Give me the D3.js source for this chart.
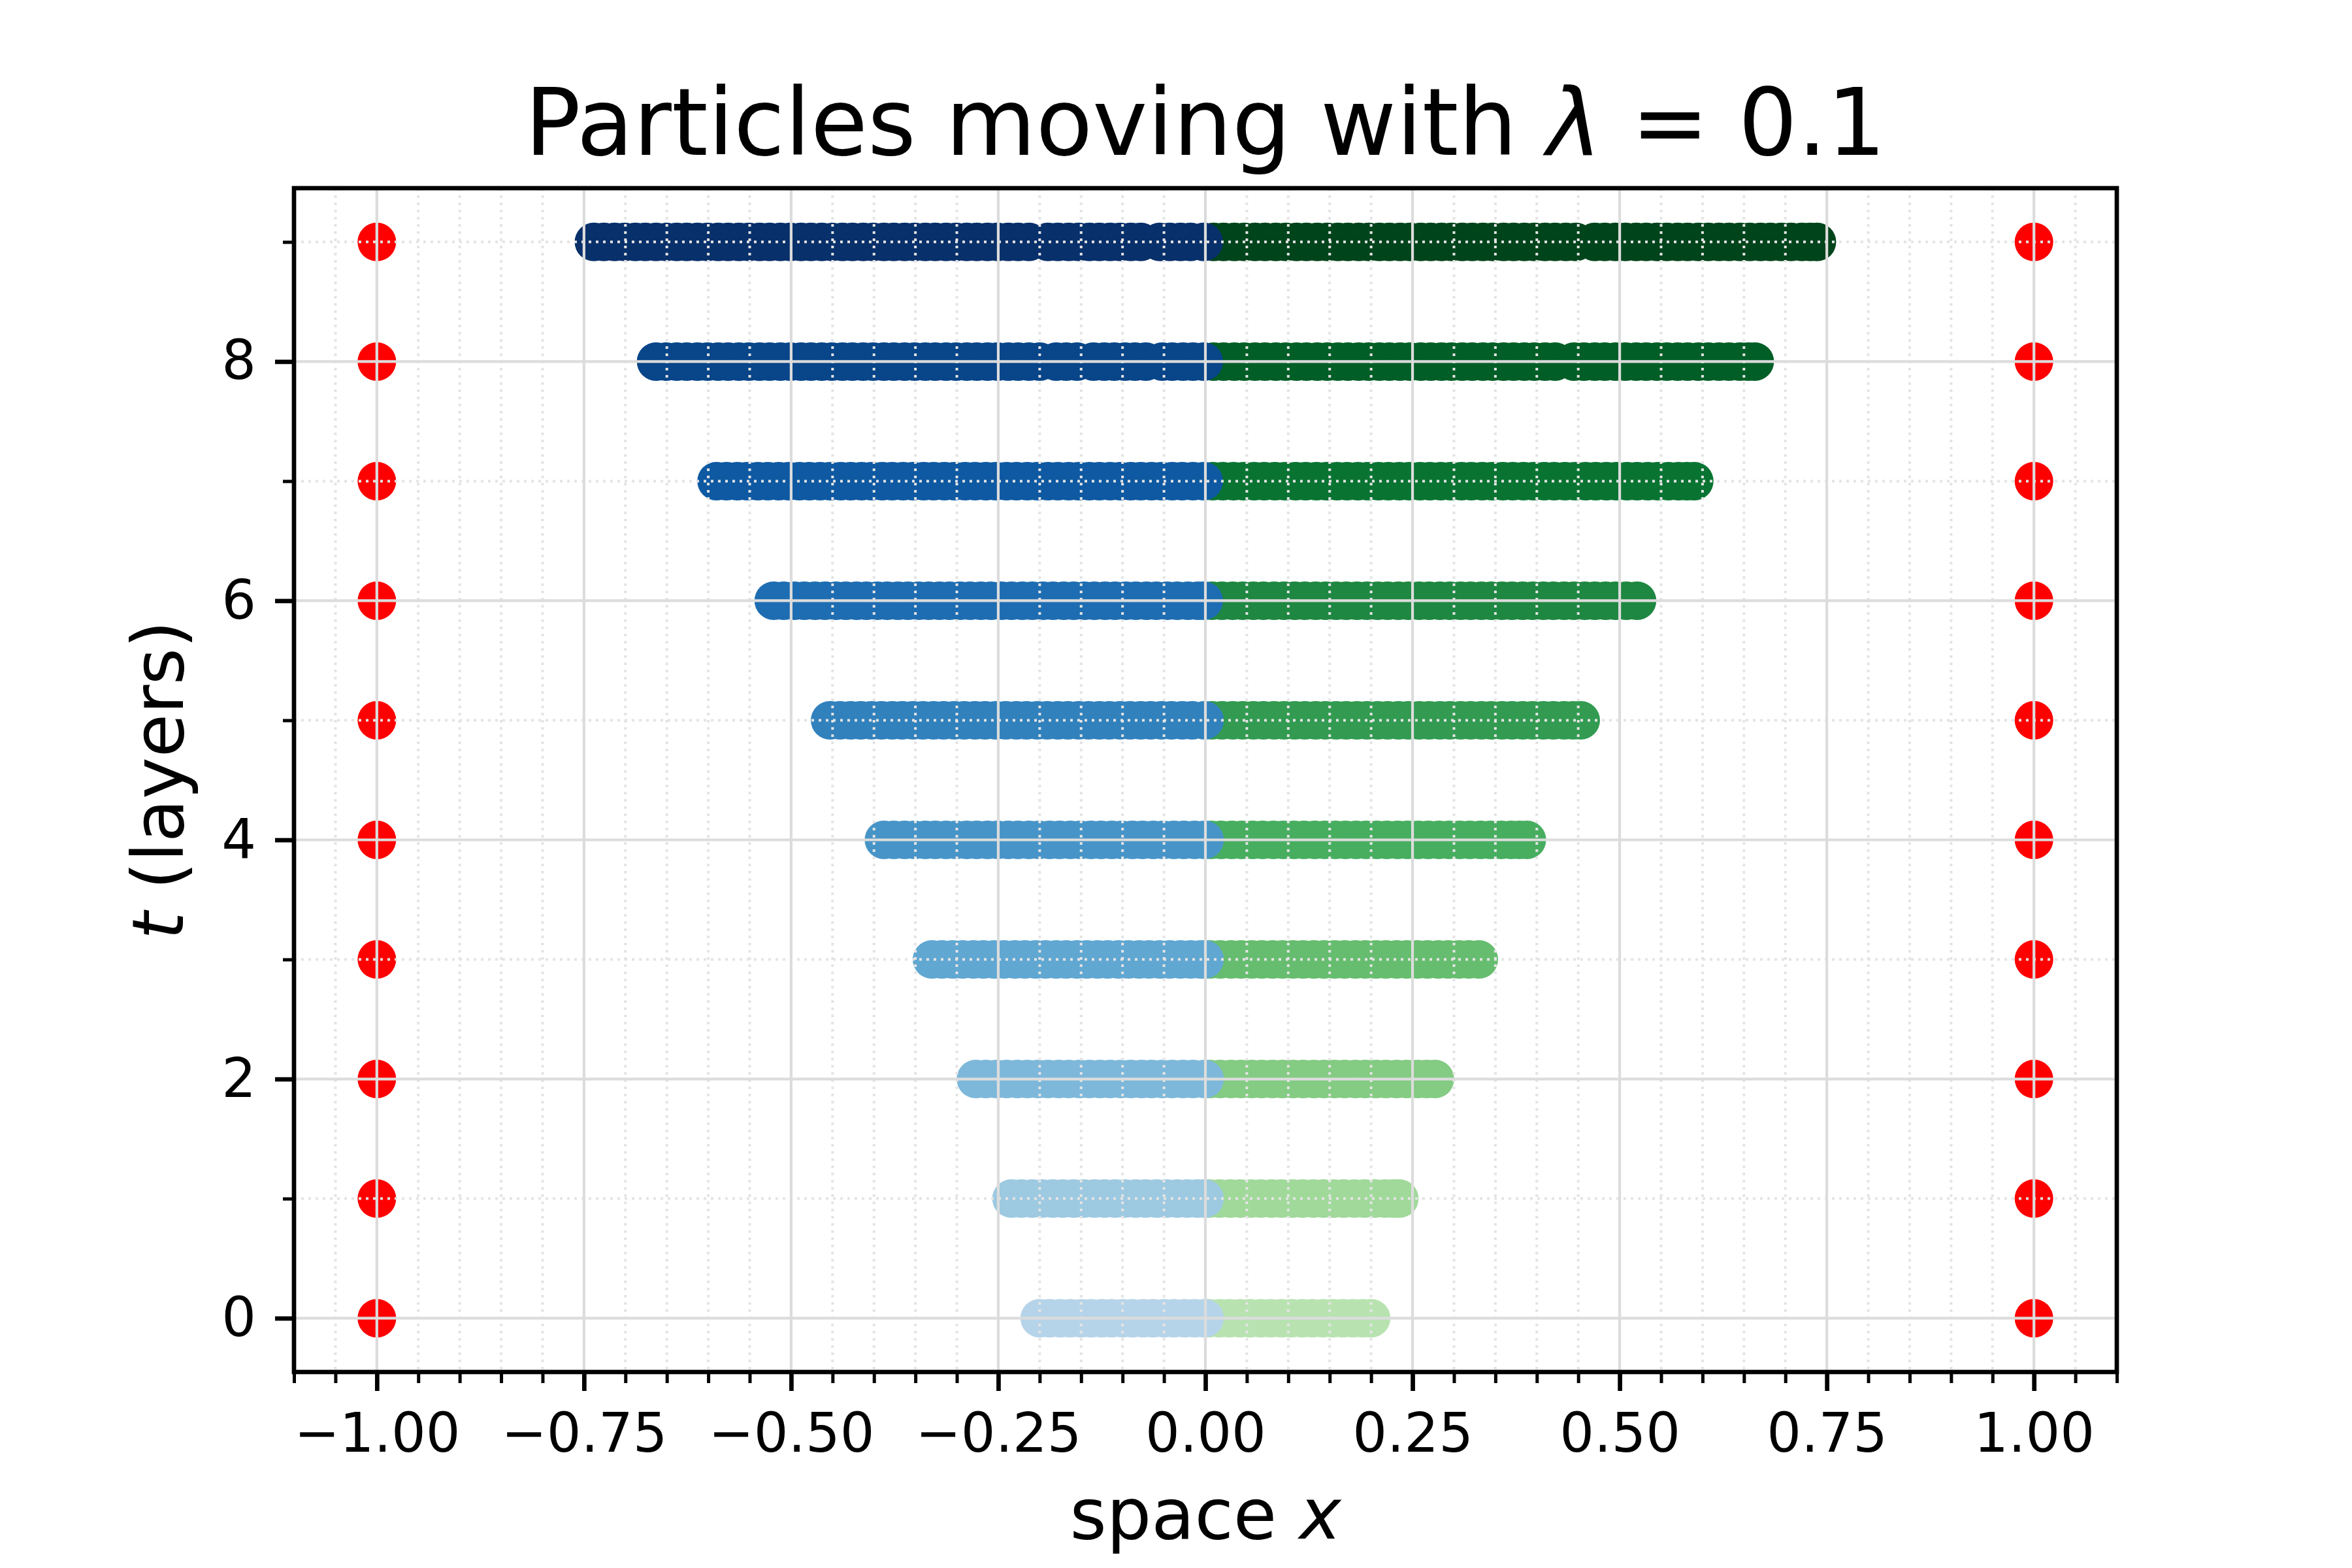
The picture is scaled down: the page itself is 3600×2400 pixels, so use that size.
<!DOCTYPE html>
<html>
<head>
<meta charset="utf-8">
<script src="https://cdn.jsdelivr.net/npm/d3@7"></script>
<style>
	body { margin: 0; background: #fff; }
	svg text { font-family: "DejaVu Sans", sans-serif; white-space: pre; fill: #000; }
</style>
</head>
<body>
<div id="chartDiv"></div>
<script>
// layers (t) and particle positions per layer
var layers = [0, 1, 2, 3, 4, 5, 6, 7, 8, 9];

// particles with x < 0 (blue)
var leftParticles = [
	[-0.2, -0.188, -0.175, -0.163, -0.15, -0.138, -0.125, -0.113, -0.1, -0.088, -0.075, -0.063, -0.05, -0.038, -0.025, -0.013, -0.001],
	[-0.234, -0.222, -0.209, -0.197, -0.184, -0.172, -0.159, -0.147, -0.134, -0.122, -0.109, -0.097, -0.084, -0.072, -0.059, -0.047, -0.034, -0.022, -0.01, -0.001],
	[-0.277, -0.265, -0.252, -0.24, -0.227, -0.215, -0.202, -0.19, -0.177, -0.165, -0.152, -0.14, -0.127, -0.115, -0.102, -0.09, -0.077, -0.065, -0.052, -0.04, -0.027, -0.015, -0.001],
	[-0.33, -0.318, -0.305, -0.293, -0.28, -0.268, -0.255, -0.243, -0.23, -0.218, -0.205, -0.193, -0.18, -0.168, -0.155, -0.143, -0.13, -0.118, -0.105, -0.093, -0.08, -0.068, -0.055, -0.043, -0.03, -0.018, -0.006, -0.001],
	[-0.388, -0.376, -0.363, -0.351, -0.338, -0.326, -0.313, -0.301, -0.288, -0.276, -0.263, -0.251, -0.238, -0.226, -0.213, -0.201, -0.188, -0.176, -0.163, -0.151, -0.138, -0.126, -0.113, -0.101, -0.088, -0.076, -0.063, -0.051, -0.038, -0.026, -0.013, -0.001],
	[-0.453, -0.441, -0.428, -0.416, -0.403, -0.391, -0.378, -0.366, -0.353, -0.341, -0.328, -0.316, -0.303, -0.291, -0.278, -0.266, -0.253, -0.241, -0.228, -0.216, -0.203, -0.191, -0.178, -0.166, -0.153, -0.141, -0.128, -0.116, -0.103, -0.091, -0.078, -0.066, -0.053, -0.041, -0.028, -0.016, -0.001],
	[-0.521, -0.509, -0.496, -0.484, -0.471, -0.459, -0.446, -0.434, -0.421, -0.409, -0.396, -0.384, -0.371, -0.359, -0.346, -0.334, -0.321, -0.309, -0.296, -0.284, -0.271, -0.259, -0.246, -0.234, -0.221, -0.209, -0.196, -0.184, -0.171, -0.159, -0.146, -0.134, -0.121, -0.109, -0.096, -0.084, -0.071, -0.059, -0.046, -0.034, -0.021, -0.009, -0.002],
	[-0.59, -0.578, -0.565, -0.553, -0.54, -0.528, -0.515, -0.503, -0.49, -0.478, -0.465, -0.453, -0.44, -0.428, -0.415, -0.403, -0.39, -0.378, -0.365, -0.353, -0.34, -0.328, -0.315, -0.303, -0.29, -0.278, -0.265, -0.253, -0.24, -0.228, -0.215, -0.203, -0.19, -0.178, -0.165, -0.153, -0.14, -0.128, -0.115, -0.103, -0.09, -0.078, -0.065, -0.053, -0.04, -0.028, -0.015, -0.002],
	[-0.663, -0.651, -0.638, -0.626, -0.613, -0.601, -0.588, -0.576, -0.563, -0.551, -0.538, -0.526, -0.513, -0.501, -0.488, -0.476, -0.463, -0.451, -0.438, -0.426, -0.413, -0.401, -0.388, -0.376, -0.363, -0.351, -0.338, -0.326, -0.313, -0.301, -0.288, -0.276, -0.263, -0.251, -0.238, -0.226, -0.213, -0.2, -0.18, -0.168, -0.155, -0.135, -0.122, -0.11, -0.097, -0.085, -0.072, -0.052, -0.04, -0.027, -0.015, -0.002],
	[-0.738, -0.726, -0.713, -0.701, -0.688, -0.676, -0.663, -0.651, -0.638, -0.626, -0.613, -0.601, -0.588, -0.576, -0.563, -0.551, -0.538, -0.526, -0.513, -0.501, -0.488, -0.476, -0.463, -0.451, -0.438, -0.426, -0.413, -0.401, -0.388, -0.376, -0.363, -0.351, -0.338, -0.326, -0.313, -0.301, -0.288, -0.276, -0.263, -0.251, -0.238, -0.226, -0.213, -0.19, -0.178, -0.165, -0.153, -0.14, -0.128, -0.115, -0.103, -0.09, -0.078, -0.055, -0.043, -0.03, -0.018, -0.002]
];

// particles with x > 0 (green)
var rightParticles = [
	[0.004, 0.017, 0.029, 0.042, 0.054, 0.067, 0.079, 0.092, 0.104, 0.117, 0.129, 0.142, 0.154, 0.166, 0.178, 0.19, 0.2],
	[0.005, 0.017, 0.03, 0.042, 0.055, 0.067, 0.08, 0.092, 0.105, 0.117, 0.13, 0.142, 0.155, 0.167, 0.18, 0.192, 0.205, 0.217, 0.227, 0.234],
	[0.006, 0.018, 0.031, 0.043, 0.056, 0.068, 0.081, 0.093, 0.106, 0.118, 0.131, 0.143, 0.156, 0.168, 0.181, 0.193, 0.206, 0.218, 0.231, 0.243, 0.256, 0.267, 0.277],
	[0.006, 0.018, 0.031, 0.043, 0.056, 0.068, 0.081, 0.093, 0.106, 0.118, 0.131, 0.143, 0.156, 0.168, 0.181, 0.193, 0.206, 0.218, 0.231, 0.243, 0.256, 0.268, 0.281, 0.293, 0.306, 0.318, 0.33],
	[0.007, 0.019, 0.032, 0.044, 0.057, 0.069, 0.082, 0.094, 0.107, 0.119, 0.132, 0.144, 0.157, 0.169, 0.182, 0.194, 0.207, 0.219, 0.232, 0.244, 0.257, 0.269, 0.282, 0.294, 0.307, 0.319, 0.332, 0.344, 0.357, 0.369, 0.379, 0.388],
	[0.008, 0.02, 0.033, 0.045, 0.058, 0.07, 0.083, 0.095, 0.108, 0.12, 0.133, 0.145, 0.158, 0.17, 0.183, 0.195, 0.208, 0.22, 0.233, 0.245, 0.258, 0.27, 0.283, 0.295, 0.308, 0.32, 0.333, 0.345, 0.358, 0.37, 0.383, 0.395, 0.408, 0.42, 0.433, 0.444, 0.453],
	[0.008, 0.02, 0.033, 0.045, 0.058, 0.07, 0.083, 0.095, 0.108, 0.12, 0.133, 0.145, 0.158, 0.17, 0.183, 0.195, 0.208, 0.22, 0.233, 0.245, 0.258, 0.27, 0.283, 0.295, 0.308, 0.32, 0.333, 0.345, 0.358, 0.37, 0.383, 0.395, 0.408, 0.42, 0.433, 0.445, 0.458, 0.47, 0.483, 0.495, 0.508, 0.521],
	[0.009, 0.021, 0.034, 0.046, 0.059, 0.071, 0.084, 0.096, 0.109, 0.121, 0.134, 0.146, 0.159, 0.171, 0.184, 0.196, 0.209, 0.221, 0.234, 0.246, 0.259, 0.271, 0.284, 0.296, 0.309, 0.321, 0.334, 0.346, 0.359, 0.371, 0.384, 0.396, 0.409, 0.421, 0.434, 0.446, 0.459, 0.471, 0.484, 0.496, 0.509, 0.521, 0.534, 0.546, 0.559, 0.571, 0.581, 0.59],
	[0.01, 0.022, 0.035, 0.047, 0.06, 0.072, 0.085, 0.097, 0.11, 0.122, 0.135, 0.147, 0.16, 0.172, 0.185, 0.197, 0.21, 0.222, 0.235, 0.247, 0.26, 0.272, 0.285, 0.297, 0.31, 0.322, 0.335, 0.347, 0.36, 0.372, 0.385, 0.397, 0.41, 0.422, 0.445, 0.457, 0.47, 0.482, 0.495, 0.507, 0.52, 0.532, 0.545, 0.557, 0.57, 0.582, 0.595, 0.607, 0.62, 0.632, 0.645, 0.655, 0.663],
	[0.01, 0.022, 0.035, 0.047, 0.06, 0.072, 0.085, 0.097, 0.11, 0.122, 0.135, 0.147, 0.16, 0.172, 0.185, 0.197, 0.21, 0.222, 0.235, 0.247, 0.26, 0.272, 0.285, 0.297, 0.31, 0.322, 0.335, 0.347, 0.36, 0.372, 0.385, 0.397, 0.41, 0.422, 0.435, 0.447, 0.47, 0.482, 0.495, 0.507, 0.52, 0.532, 0.545, 0.557, 0.57, 0.582, 0.595, 0.607, 0.62, 0.632, 0.645, 0.657, 0.67, 0.682, 0.695, 0.707, 0.72, 0.73, 0.738]
];

// fixed walls at x = -1 and x = 1
var wallPositions = [-1, 1];

var xMajorTicks = [-1, -0.75, -0.5, -0.25, 0, 0.25, 0.5, 0.75, 1];
var yMajorTicks = [0, 2, 4, 6, 8];
var yMinorTicks = [1, 3, 5, 7, 9];

var titleMain = "Particles moving with ";
var titleLambda = "\u03bb";
var titleRest = " = 0.1";

;(function() {

	var width = 3600;
	var height = 2400;
	var margin = { top: 288, right: 360, bottom: 300, left: 450 };
	var chartWidth = width - margin.left - margin.right;
	var chartHeight = height - margin.top - margin.bottom;

	var markerRadius = 29.5;
	var gridColor = "#dcdcdc";
	var minorGridColor = "#e4e4e4";

	// matplotlib Blues / Greens colormaps
	var bluesStops = ["#f7fbff", "#deebf7", "#c6dbef", "#9ecae1", "#6baed6", "#4292c6", "#2171b5", "#08519c", "#08306b"];
	var greensStops = ["#f7fcf5", "#e5f5e0", "#c7e9c0", "#a1d99b", "#74c476", "#41ab5d", "#238b45", "#006d2c", "#00441b"];
	var stopPos = d3.range(9).map(function(i) { return i / 8; });
	var blues = d3.scaleLinear().domain(stopPos).range(bluesStops).interpolate(d3.interpolateRgb);
	var greens = d3.scaleLinear().domain(stopPos).range(greensStops).interpolate(d3.interpolateRgb);
	var shade = d3.scaleLinear().domain([0, 9]).range([0.3, 1.0]);

	var chart = d3.select("#chartDiv").append("svg")
		.attr("width", width)
		.attr("height", height);

	chart.append("rect")
		.attr("width", width)
		.attr("height", height)
		.attr("fill", "#fff");

	var plotArea = chart.append("g")
		.attr("transform", "translate(" + margin.left + "," + margin.top + ")");

	var xScale = d3.scaleLinear()
		.domain([-1.1, 1.1])
		.range([0, chartWidth]);

	var yScale = d3.scaleLinear()
		.domain([-0.45, 9.45])
		.range([chartHeight, 0]);

	// minor x ticks every 0.05, skipping the major ones
	var xMinorTicks = d3.range(-22, 23).map(function(i) { return i * 0.05; })
		.filter(function(v) { return Math.abs(v * 4 - Math.round(v * 4)) > 1e-6; });

	// particles: green first, blue on top
	layers.forEach(function(t, i) {
		var row = plotArea.append("g").attr("class", "layer");

		row.selectAll(".right").data(rightParticles[i]).enter().append("circle")
			.attr("class", "right")
			.attr("cx", function(d) { return xScale(d); })
			.attr("cy", yScale(t))
			.attr("r", markerRadius)
			.attr("fill", greens(shade(t)));

		row.selectAll(".left").data(leftParticles[i]).enter().append("circle")
			.attr("class", "left")
			.attr("cx", function(d) { return xScale(d); })
			.attr("cy", yScale(t))
			.attr("r", markerRadius)
			.attr("fill", blues(shade(t)));
	});

	// walls
	var walls = [];
	layers.forEach(function(t) {
		wallPositions.forEach(function(w) { walls.push({ x: w, t: t }); });
	});
	plotArea.selectAll(".wall").data(walls).enter().append("circle")
		.attr("class", "wall")
		.attr("cx", function(d) { return xScale(d.x); })
		.attr("cy", function(d) { return yScale(d.t); })
		.attr("r", markerRadius)
		.attr("fill", "#ff0000");

	// grid drawn over the markers
	var grid = plotArea.append("g").attr("class", "grid");

	grid.selectAll(".xminor").data(xMinorTicks).enter().append("line")
		.attr("x1", function(d) { return xScale(d); })
		.attr("x2", function(d) { return xScale(d); })
		.attr("y1", 0).attr("y2", chartHeight)
		.attr("stroke", minorGridColor)
		.attr("stroke-width", 4)
		.attr("stroke-dasharray", "4,7");

	grid.selectAll(".yminor").data(yMinorTicks).enter().append("line")
		.attr("y1", function(d) { return yScale(d); })
		.attr("y2", function(d) { return yScale(d); })
		.attr("x1", 0).attr("x2", chartWidth)
		.attr("stroke", minorGridColor)
		.attr("stroke-width", 4)
		.attr("stroke-dasharray", "4,7");

	grid.selectAll(".xmajor").data(xMajorTicks).enter().append("line")
		.attr("x1", function(d) { return xScale(d); })
		.attr("x2", function(d) { return xScale(d); })
		.attr("y1", 0).attr("y2", chartHeight)
		.attr("stroke", gridColor)
		.attr("stroke-width", 4.2);

	grid.selectAll(".ymajor").data(yMajorTicks).enter().append("line")
		.attr("y1", function(d) { return yScale(d); })
		.attr("y2", function(d) { return yScale(d); })
		.attr("x1", 0).attr("x2", chartWidth)
		.attr("stroke", gridColor)
		.attr("stroke-width", 4.2);

	// axes
	var fmtX = function(d) { return d3.format(".2f")(d).replace("-", "\u2212"); };

	var xAxis = d3.axisBottom(xScale)
		.tickValues(xMajorTicks)
		.tickSize(29)
		.tickPadding(34)
		.tickFormat(fmtX);

	var xMinorAxis = d3.axisBottom(xScale)
		.tickValues(xMinorTicks)
		.tickSize(17)
		.tickFormat("");

	var yAxis = d3.axisLeft(yScale)
		.tickValues(yMajorTicks)
		.tickSize(29)
		.tickPadding(29)
		.tickFormat(d3.format("d"));

	var yMinorAxis = d3.axisLeft(yScale)
		.tickValues(yMinorTicks)
		.tickSize(17)
		.tickFormat("");

	function styleAxis(g, w) {
		g.select(".domain").remove();
		g.selectAll(".tick line").attr("stroke", "#000").attr("stroke-width", w);
		g.selectAll(".tick text")
			.style("font-size", "83px")
			.style("font-family", "'DejaVu Sans', sans-serif");
	}

	chart.append("g")
		.attr("transform", "translate(" + margin.left + "," + (margin.top + chartHeight) + ")")
		.call(xMinorAxis).call(styleAxis, 5);
	chart.append("g")
		.attr("transform", "translate(" + margin.left + "," + (margin.top + chartHeight) + ")")
		.call(xAxis).call(styleAxis, 6.7);
	chart.append("g")
		.attr("transform", "translate(" + margin.left + "," + margin.top + ")")
		.call(yMinorAxis).call(styleAxis, 5);
	chart.append("g")
		.attr("transform", "translate(" + margin.left + "," + margin.top + ")")
		.call(yAxis).call(styleAxis, 6.7);

	// spines
	chart.append("rect")
		.attr("x", margin.left)
		.attr("y", margin.top)
		.attr("width", chartWidth)
		.attr("height", chartHeight)
		.attr("fill", "none")
		.attr("stroke", "#000")
		.attr("stroke-width", 6.7);

	// title
	var title = chart.append("text")
		.attr("x", margin.left + chartWidth / 2)
		.attr("y", 237)
		.attr("text-anchor", "middle")
		.style("font-size", "142px");
	title.append("tspan").text(titleMain);
	title.append("tspan").style("font-style", "italic").text(titleLambda);
	title.append("tspan").text(titleRest);

	// x axis label
	var xLabel = chart.append("text")
		.attr("x", margin.left + chartWidth / 2)
		.attr("y", 2355)
		.attr("text-anchor", "middle")
		.style("font-size", "108px");
	xLabel.append("tspan").text("space ");
	xLabel.append("tspan").style("font-style", "italic").text("x");

	// y axis label
	var yLabel = chart.append("text")
		.attr("text-anchor", "middle")
		.attr("transform", "translate(280," + (margin.top + chartHeight / 2) + ") rotate(-90)")
		.style("font-size", "108px");
	yLabel.append("tspan").style("font-style", "italic").text("t");
	yLabel.append("tspan").text(" (layers)");

})();
</script>
</body>
</html>
